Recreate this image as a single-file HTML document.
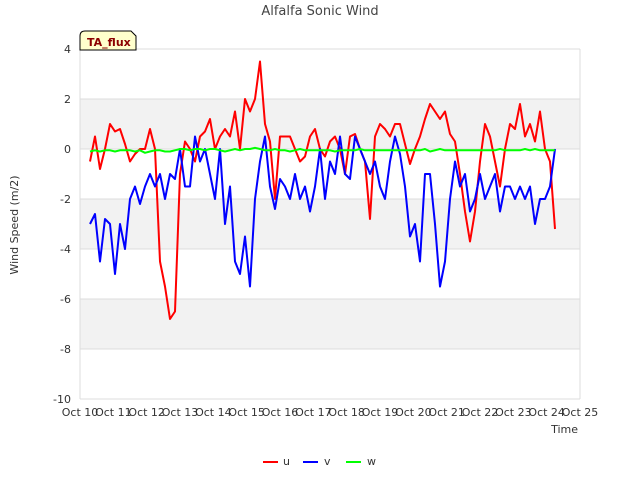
<!DOCTYPE html>
<html><head><meta charset="utf-8"><style>
body{margin:0;background:#fff;font-family:"Liberation Sans","DejaVu Sans",sans-serif;}
svg text{font-family:"DejaVu Sans","Liberation Sans",sans-serif;}
</style></head><body>
<svg id="c" width="640" height="480" xmlns="http://www.w3.org/2000/svg">
<rect x="0" y="0" width="640" height="480" fill="#fff"/>
<g id="grid"></g>
<g id="series"></g>
<g id="axes"></g>
<text x="320" y="15" text-anchor="middle" font-size="13" fill="#444">Alfalfa Sonic Wind</text>
<text x="18" y="225" text-anchor="middle" font-size="11" fill="#333" transform="rotate(-90 18 225)">Wind Speed (m/2)</text>
<text x="578" y="433" text-anchor="end" font-size="11" fill="#333">Time</text>
<g>
<path d="M80,50 L80,36 Q80,31 85,31 L131,31 L136,36 L136,50 Z" fill="#ffffcc" stroke="#000" stroke-width="1"/>
<text x="87" y="46" font-size="11" font-weight="bold" fill="#8b0000">TA_flux</text>
</g>
<g>
<g><line x1="263" y1="462" x2="278" y2="462" stroke="#f00" stroke-width="2"/><text x="283" y="465" font-size="11" fill="#333">u</text></g>
<g><line x1="303" y1="462" x2="318" y2="462" stroke="#00f" stroke-width="2"/><text x="324" y="465" font-size="11" fill="#333">v</text></g>
<g><line x1="346" y1="462" x2="361" y2="462" stroke="#0f0" stroke-width="2"/><text x="367" y="465" font-size="11" fill="#333">w</text></g>
</g>
</svg>
<script>
const xTickLabels=["Oct 10","Oct 11","Oct 12","Oct 13","Oct 14","Oct 15","Oct 16","Oct 17","Oct 18","Oct 19","Oct 20","Oct 21","Oct 22","Oct 23","Oct 24","Oct 25"];
const yTicks=[4,2,0,-2,-4,-6,-8,-10];
const startDay=10.3;
const stepDay=0.15;
const uVals=[-0.5,0.5,-0.8,0,1,0.7,0.8,0.2,-0.5,-0.2,0,0,0.8,0,-4.5,-5.5,-6.8,-6.5,-1,0.3,0,-0.5,0.5,0.7,1.2,0,0.5,0.8,0.5,1.5,0,2,1.5,2,3.5,1,0.3,-2,0.5,0.5,0.5,0,-0.5,-0.3,0.5,0.8,0,-0.3,0.3,0.5,0,-1,0.5,0.6,0,-0.5,-2.8,0.5,1,0.8,0.5,1,1,0.2,-0.6,0,0.5,1.2,1.8,1.5,1.2,1.5,0.6,0.3,-1,-2.5,-3.7,-2.5,-0.5,1,0.5,-0.5,-1.5,0,1,0.8,1.8,0.5,1,0.3,1.5,0,-0.5,-3.2];
const vVals=[-3,-2.6,-4.5,-2.8,-3,-5,-3,-4,-2,-1.5,-2.2,-1.5,-1,-1.5,-1,-2,-1,-1.2,0,-1.5,-1.5,0.5,-0.5,0,-1,-2,0,-3,-1.5,-4.5,-5,-3.5,-5.5,-2,-0.5,0.5,-1.5,-2.4,-1.2,-1.5,-2,-1,-2,-1.5,-2.5,-1.5,0,-2,-0.5,-1,0.5,-1,-1.2,0.5,0,-0.5,-1,-0.5,-1.5,-2,-0.5,0.5,-0.2,-1.5,-3.5,-3,-4.5,-1,-1,-3,-5.5,-4.5,-2,-0.5,-1.5,-1,-2.5,-2,-1,-2,-1.5,-1,-2.5,-1.5,-1.5,-2,-1.5,-2,-1.5,-3,-2,-2,-1.5,0];
const wVals=[-0.1,-0.05,-0.1,-0.05,-0.05,-0.1,-0.05,-0.05,-0.05,-0.1,-0.05,-0.15,-0.1,-0.05,-0.05,-0.1,-0.1,-0.05,0,0,-0.05,0,0,-0.05,0,0,-0.05,-0.1,-0.05,0,-0.05,0,0,0.05,0,-0.05,-0.05,0,-0.05,-0.05,-0.1,-0.05,0,-0.05,-0.05,-0.05,-0.05,-0.05,-0.05,-0.1,-0.05,-0.05,-0.05,-0.05,0,-0.05,-0.05,-0.05,-0.05,-0.05,-0.05,-0.05,-0.05,-0.05,-0.05,-0.05,-0.05,0,-0.1,-0.05,0,-0.05,-0.05,-0.05,-0.05,-0.05,-0.05,-0.05,-0.05,-0.05,-0.05,-0.05,0,-0.05,-0.05,-0.05,-0.05,0,-0.05,0,-0.05,-0.05,-0.05,-0.05];
const L=80,R=580,T=49,B=399;
function xs(d){return L+(d-10)*(R-L)/15;}
function ys(v){return T+(4-v)*(B-T)/14;}
const NS="http://www.w3.org/2000/svg";
function mk(tag,attrs,parent){const e=document.createElementNS(NS,tag);for(const k in attrs)e.setAttribute(k,attrs[k]);parent.appendChild(e);return e;}
const grid=document.getElementById('grid'),axes=document.getElementById('axes'),series=document.getElementById('series');
for(let i=0;i<yTicks.length-1;i++){
  if(i%2===1){const r=mk('rect',{x:L,y:ys(yTicks[i]),width:R-L,height:ys(yTicks[i+1])-ys(yTicks[i]),fill:'#f2f2f2'},grid);
  
  }
}
yTicks.forEach(v=>{
  const l=mk('line',{x1:L,x2:R,y1:ys(v),y2:ys(v),stroke:'#dcdcdc','stroke-width':1},grid);
  
  
  const t=mk('text',{x:L-9,y:ys(v)+4,'text-anchor':'end','font-size':11,fill:'#333'},axes);
  t.textContent=v;
  
  
});
mk('line',{x1:L,x2:L,y1:T,y2:B,stroke:'#dcdcdc'},axes);
mk('line',{x1:R,x2:R,y1:T,y2:B,stroke:'#dcdcdc'},axes);
xTickLabels.forEach((s,i)=>{
  const t=mk('text',{x:xs(10+i),y:B+17,'text-anchor':'middle','font-size':11,fill:'#333'},axes);
  t.textContent=s;
  
  
});
function line(vals,color,name){
  const pts=vals.map((v,i)=>xs(startDay+i*stepDay).toFixed(1)+','+ys(v).toFixed(1)).join(' ');
  const p=mk('polyline',{points:pts,fill:'none',stroke:color,'stroke-width':2,'stroke-linejoin':'round'},series);
  
  
}
line(uVals,'#f00','series-u');
line(vVals,'#00f','series-v');
line(wVals,'#0f0','series-w');
</script>
</body></html>
